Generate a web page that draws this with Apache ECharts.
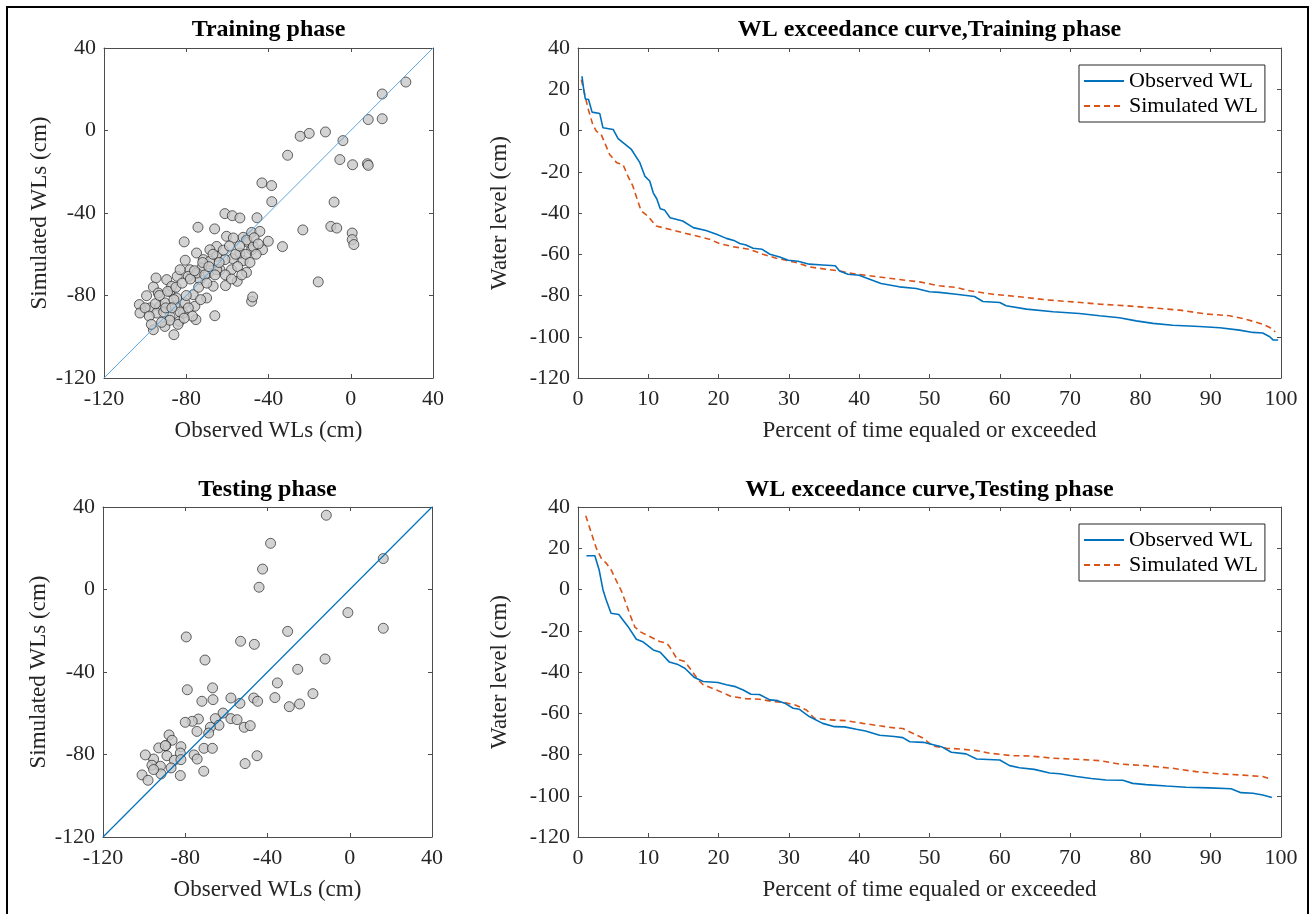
<!DOCTYPE html>
<html><head><meta charset="utf-8">
<script src="https://cdn.jsdelivr.net/npm/echarts@6/dist/echarts.min.js"></script>
<style>html,body{margin:0;padding:0;background:#fff}#c{width:1316px;height:914px}</style>
</head><body><div id="c"></div>
<script>
// ---- Data ----
const scatterTicks = [-120, -80, -40, 0, 40];
const curveXTicks = [0,10,20,30,40,50,60,70,80,90,100];
const curveYTicks = [-120,-100,-80,-60,-40,-20,0,20,40];
const identityLine = [[-120,-120],[40,40]];

// Training phase: [observed, simulated]
const trainPairs = [
[26.8,23.5],[15.3,17.7],[8.5,5.3],[15.3,5.7],[-3.8,-4.9],[-12.3,-0.7],[-20.2,-1.4],[-24.6,-2.8],[-30.7,-12],[-5.3,-14.1],
[0.9,-16.6],[8.1,-16.1],[8.5,-16.9],[-43.2,-25.4],[-38.5,-26.7],[-38.4,-34.5],[-8.1,-34.7],[-61.2,-40.3],[-57.6,-41.3],[-53.9,-42.4],
[-45.6,-42.3],[-74.3,-46.9],[-66.2,-47.7],[-23.3,-48.2],[-9.7,-46.5],[-6.8,-47.3],[0.7,-49.7],[0.7,-52.9],[1.5,-55.3],[-81,-54],
[-60.4,-51.3],[-57.1,-52.1],[-52.3,-51.8],[-48.2,-49.4],[-44.2,-48.9],[-40.1,-53.7],[-42.9,-57.8],[-33.2,-56.3],[-50,-54.2],[-48.2,-57.8],
[-65.2,-56.2],[-68.5,-57.8],[-75,-59.4],[-80.5,-62.9],[-57.5,-62.1],[-52.3,-63.1],[-65.2,-61],[-71.7,-62.6],[-72.5,-66.6],[-78.2,-67.5],
[-63.6,-67.5],[-58,-67.5],[-50.7,-68.8],[-55.2,-73.1],[-60.9,-75.2],[-66.9,-75.5],[-70.1,-81.2],[-79,-70.7],[-84.4,-70.7],[-89.5,-72.3],
[-94.7,-71.5],[-96,-75.9],[-87.9,-78],[-99.3,-80.1],[-102.8,-84.4],[-102.5,-88.5],[-97.6,-86],[-92.8,-85.2],[-94.4,-88.5],[-96,-96.6],
[-90.4,-95],[-86,-99],[-83.4,-92.5],[-80.6,-83.6],[-75.8,-85.2],[-75.3,-91.7],[-66.1,-89.8],[-48.2,-82.8],[-47.7,-80.7],[-15.8,-73.4],
[-85.5,-85.2],[-87.9,-90.1],[-81.4,-88.5],[-90.4,-83.6],[-93.6,-78.8],[-87.1,-75.5],[-84.7,-81.2],[-76.6,-79.6],[-73.3,-72.3],[-69.2,-69.1],
[-74.9,-69.1],[-83,-67.5],[-68.5,-63.4],[-61.2,-62.6],[-65.2,-67.5],[-53.9,-59.4],[-47.4,-56.2],[-50.7,-53.1],
[-100,-86],[-98,-90],[-95,-84],[-93,-80],[-91,-88],[-89,-78],[-88,-92],[-86,-82],[-85,-76],[-83,-88],[-82,-74],[-80,-80],[-79,-86],
[-78,-72],[-77,-90],[-76,-68],[-74,-76],[-73,-82],[-72,-64],[-71,-70],[-70,-74],[-69,-66],[-67,-60],[-66,-70],[-64,-64],[-62,-58],
[-61,-70],[-59,-56],[-58,-72],[-56,-60],[-55,-66],[-54,-56],[-53,-70],[-51,-60],[-49,-64],[-47,-52],[-46,-60],[-45,-55],[-97,-94],
[-92,-93],[-90,-86],[-87,-86],[-84,-94],[-81,-91]
];

// Testing phase: [observed, simulated]
const testPairs = [
[-11.4,36],[-38.5,22.4],[-42.4,9.9],[-44.1,1.1],[16.3,15],[-0.9,-11.2],[16.3,-18.8],[-79.5,-23],[-53.1,-25.1],[-46.4,-26.6],
[-30.2,-20.3],[-70.4,-34.2],[-12,-33.7],[-25.3,-38.7],[-35.2,-45.3],[-17.9,-50.5],[-79,-48.6],[-66.7,-47.7],[-71.9,-54.2],[-66.5,-53.4],
[-57.8,-52.6],[-53.4,-55.2],[-46.7,-52.6],[-44.8,-54.2],[-36.4,-52.4],[-29.4,-56.8],[-24.4,-55.5],[-61.6,-59.9],[-65.4,-62.6],[-57.8,-62.6],
[-54.8,-63.1],[-63.6,-65.8],[-67.8,-66.8],[-51.3,-66.8],[-48.4,-66],[-73.6,-62.8],[-76.6,-63.9],[-80,-64.4],[-74.3,-68.8],[-68.6,-69.6],
[-87.9,-70.5],[-86.4,-73.1],[-89.5,-75.7],[-92.9,-76.8],[-82.1,-76.2],[-70.9,-77],[-66.8,-77],[-75.7,-80.2],[-74.2,-82.2],[-82.4,-79.3],
[-88.9,-80.6],[-95.4,-82.2],[-99.4,-80.2],[-85.3,-82.8],[-82.1,-82.5],[-45.1,-80.6],[-50.9,-84.4],[-71,-88.1],[-82.4,-90.2],[-96.2,-85.2],
[-92.1,-85.7],[-86.9,-86.5],[-91.8,-89.4],[-101,-89.9],[-98.1,-92.5],[-95.4,-87.3],[-89.7,-75.7]
];

// Exceedance curves, training phase
const trainObsPct = [0.57,0.8,1.04,1.5,2,3.1,3.55,5,5.7,7.6,8.8,9.5,10.2,10.7,11.2,11.7,12.3,13.1,14.9,16.4,18.2,19.7,21.1,22.3,23,23.9,24.9,26.2,27.3,28.7,29.9,31.3,32.9,34.8,36.6,37.2,38.4,40,41.2,43.1,45.7,48.1,50,51.4,53.8,56.4,57.6,60,60.9,63.8,67.6,71.3,74.2,77,79.4,81.8,84.6,88.4,91.3,94.1,96,97.4,98.4,98.9,99.6];
const trainObsWL = [26.3,20.2,15.3,15,8.9,8.2,1.3,0.5,-3.9,-9.2,-15.6,-22.1,-24.5,-30.2,-33.1,-37.9,-38.5,-42.3,-43.9,-47.1,-48.5,-50.3,-52.3,-53.5,-54.8,-55.5,-57.1,-57.6,-60,-61.3,-62.9,-63.4,-64.8,-65.2,-65.6,-68.1,-69.7,-70.2,-71.8,-74.2,-75.8,-76.6,-78.2,-78.5,-79.4,-80.5,-82.9,-83.4,-85,-86.6,-87.9,-88.7,-89.8,-90.8,-92.3,-93.5,-94.4,-95,-95.6,-96.8,-97.9,-98.2,-100,-101.6,-101.6];
const trainSimPct = [0.47,0.8,1.4,2.1,2.6,3.3,4,4.5,5.5,6.4,7.1,7.8,8.5,9,9.95,11.1,13,15.2,17.3,18.7,20.1,22,24.4,26.3,28.2,31,32.9,35.3,37.2,39.6,42.4,45.3,48.6,51.4,53.8,55.7,59,62.8,66.6,70.4,74.2,78,81.8,85.6,89.4,92.7,95,97.4,98.4,99.2];
const trainSimWL = [24.7,19.8,11,2.9,-0.3,-1.9,-7.6,-11.6,-15.6,-16.5,-22.1,-26.9,-34.2,-39,-41.5,-46.3,-47.9,-49.8,-51.5,-52.7,-54.8,-56.3,-57.6,-60,-61.9,-64,-66.1,-67.3,-68.1,-69.7,-70.8,-72.1,-73.4,-75.3,-76.1,-77.7,-79.4,-80.6,-82.1,-83.1,-84.2,-85,-86,-87.1,-89,-89.8,-91.5,-93.9,-95.5,-97.6];

// Exceedance curves, testing phase
const testObsPct = [1.2,2.4,3,3.55,4,4.7,5.8,7.1,8.3,9.3,10.7,11.7,13,14.1,15.2,16.5,17.8,19.9,21.1,22.4,23.5,24.6,25.8,27.3,28.4,29.4,30.6,31.5,32.9,34.8,36.5,37.9,39.6,40.9,42.9,45,46.2,47.2,49.1,51.7,53.1,55.2,56.7,60,61.4,62.8,64.9,67.1,68.5,70.9,73,75.1,77.5,78.9,80.8,83.7,86.5,89.8,92.9,94.3,96,97.4,98.7];
const testObsWL = [16.4,16.4,9.6,-0.1,-5,-11.5,-12.1,-17.9,-24.1,-25.5,-29.3,-30.4,-35.2,-36.2,-38.2,-42.5,-44.6,-45.1,-46.2,-47.1,-48.7,-50.8,-50.9,-53.5,-53.9,-55.1,-57.6,-58.1,-61.6,-64.9,-66.5,-66.6,-67.8,-68.6,-70.7,-71.3,-71.8,-73.8,-74.1,-76.2,-78.9,-79.7,-82.2,-82.7,-85.4,-86.4,-87.2,-89,-89.3,-90.7,-91.6,-92.4,-92.5,-94,-94.6,-95.3,-95.9,-96.2,-96.6,-98.5,-98.8,-99.6,-100.9];
const testSimPct = [1.1,1.9,2.6,3.3,4,4.7,5.5,6.2,6.9,7.4,8.1,9,10.2,11.6,12.6,13,14.1,15.2,16.1,17.1,17.8,19.7,21.8,23.9,25.8,27.7,29.4,31,32.5,33.6,35.8,38.2,40.5,42.9,45,46.2,47.6,49.1,50.5,52.4,54.3,56.7,58.6,61.9,64.2,67.6,70.9,74.2,77,80.8,84.6,87.9,91.3,94.1,97.4,98.6];
const testSimWL = [35.8,27.4,20.1,15.2,12.8,9.6,3.9,-0.9,-7.4,-12.3,-18.3,-20.8,-22.8,-25.2,-26,-27.6,-33.8,-34.9,-39,-43.8,-46.2,-48.7,-51.9,-52.9,-53.2,-54.3,-54.8,-56.1,-58.4,-62.4,-63.2,-63.6,-64.9,-66.1,-67.1,-67.4,-69.7,-72.1,-75.9,-77,-77.3,-78.1,-79.4,-80.6,-80.7,-81.8,-82.3,-83,-84.6,-85.4,-86.7,-88.3,-89.4,-89.9,-90.7,-92];

const legendNames = ['Observed WL', 'Simulated WL'];
const titles = ['Training phase', 'WL exceedance curve,Training phase', 'Testing phase', 'WL exceedance curve,Testing phase'];

// ---- Chart ----
const FONT = '"Liberation Serif", "Times New Roman", serif';
const TXT = '#262626';
const AX = '#4d4d4d';
const BLUE = '#0072BD', ORANGE = '#D95319';
const zip = (a, b) => a.map((v, i) => [v, b[i]]);

const grids = [
  {left:104, top:48, width:329, height:330},
  {left:578, top:48, width:703, height:330},
  {left:103, top:507, width:329, height:330},
  {left:578, top:507, width:703, height:330}
];
const isScatter = [true, false, true, false];

function mainX(i) {
  const sc = isScatter[i];
  return {
    type:'value', gridIndex:i, position:'bottom',
    min: sc ? scatterTicks[0] : curveXTicks[0],
    max: sc ? scatterTicks[scatterTicks.length-1] : curveXTicks[curveXTicks.length-1],
    interval: sc ? 40 : 10,
    name: sc ? 'Observed WLs (cm)' : 'Percent of time equaled or exceeded',
    nameLocation:'middle', nameGap:41,
    nameTextStyle:{fontFamily:FONT, fontSize:23, color:TXT},
    axisLine:{show:true, onZero:false, lineStyle:{color:AX, width:1}},
    axisTick:{show:true, inside:true, length:4, lineStyle:{color:AX}},
    axisLabel:{fontFamily:FONT, fontSize:22, color:TXT, margin:10},
    splitLine:{show:false}
  };
}
function mainY(i) {
  const sc = isScatter[i];
  return {
    type:'value', gridIndex:i, position:'left',
    min: sc ? scatterTicks[0] : curveYTicks[0],
    max: sc ? scatterTicks[scatterTicks.length-1] : curveYTicks[curveYTicks.length-1],
    interval: sc ? 40 : 20,
    name: sc ? 'Simulated WLs (cm)' : 'Water level (cm)',
    nameLocation:'middle', nameGap: sc ? 53 : 67, nameRotate:90,
    nameTextStyle:{fontFamily:FONT, fontSize:23, color:TXT},
    axisLine:{show:true, onZero:false, lineStyle:{color:AX, width:1}},
    axisTick:{show:true, inside:true, length:4, lineStyle:{color:AX}},
    axisLabel:{fontFamily:FONT, fontSize:22, color:TXT, margin:8},
    splitLine:{show:false}
  };
}
function boxAxis(base, pos) {
  return Object.assign({}, base, {position:pos, name:'', axisLabel:{show:false}});
}

const xAxes = [], yAxes = [];
for (let i = 0; i < 4; i++) { xAxes.push(mainX(i)); yAxes.push(mainY(i)); }
for (let i = 0; i < 4; i++) { xAxes.push(boxAxis(mainX(i), 'top')); yAxes.push(boxAxis(mainY(i), 'right')); }

const scatterStyle = {color:'#c8c8c8', borderColor:'#111', borderWidth:0.8};

const series = [
  {type:'scatter', xAxisIndex:0, yAxisIndex:0, data:trainPairs, symbolSize:10, itemStyle:scatterStyle, z:2, silent:true},
  {type:'line', xAxisIndex:0, yAxisIndex:0, data:identityLine, symbol:'none', lineStyle:{color:'#5ca4dc', width:1}, z:3, silent:true},
  {type:'scatter', xAxisIndex:2, yAxisIndex:2, data:testPairs, symbolSize:10, itemStyle:scatterStyle, z:2, silent:true},
  {type:'line', xAxisIndex:2, yAxisIndex:2, data:identityLine, symbol:'none', lineStyle:{color:BLUE, width:1.2}, z:3, silent:true},
  {name:legendNames[0], type:'line', xAxisIndex:1, yAxisIndex:1, data:zip(trainObsPct, trainObsWL), symbol:'none', lineStyle:{color:BLUE, width:1.6}, itemStyle:{color:BLUE}, z:3},
  {name:legendNames[1], type:'line', xAxisIndex:1, yAxisIndex:1, data:zip(trainSimPct, trainSimWL), symbol:'none', lineStyle:{color:ORANGE, width:1.6, type:[6,4]}, itemStyle:{color:ORANGE}, z:2},
  {name:legendNames[0], type:'line', xAxisIndex:3, yAxisIndex:3, data:zip(testObsPct, testObsWL), symbol:'none', lineStyle:{color:BLUE, width:1.6}, itemStyle:{color:BLUE}, z:3},
  {name:legendNames[1], type:'line', xAxisIndex:3, yAxisIndex:3, data:zip(testSimPct, testSimWL), symbol:'none', lineStyle:{color:ORANGE, width:1.6, type:[6,4]}, itemStyle:{color:ORANGE}, z:2}
];

function legendAt(top) {
  return {
    data:legendNames, orient:'vertical', left:1079, top:top,
    borderColor:'#262626', borderWidth:1, padding:[5,7,5,4],
    itemWidth:40, itemHeight:14, itemGap:3, selectedMode:false,
    itemStyle:{opacity:0},
    textStyle:{fontFamily:FONT, fontSize:22, color:'#000'}
  };
}

const titleCenters = [[268.5,32],[929.5,32],[267.5,492],[929.5,492]];
const titleOpts = titles.map((t, i) => ({
  text:t, left:titleCenters[i][0], top:titleCenters[i][1]-14, textAlign:'center',
  padding:0, textStyle:{fontFamily:FONT, fontSize:24, fontWeight:'bold', color:'#000'}
}));

const chart = echarts.init(document.getElementById('c'), null, {renderer:'canvas'});
chart.setOption({
  backgroundColor:'#fff',
  animation:false,
  title:titleOpts,
  legend:[legendAt(65), legendAt(524)],
  grid:grids,
  xAxis:xAxes,
  yAxis:yAxes,
  series:series,
  graphic:[{type:'rect', shape:{x:7, y:7, width:1301, height:930}, style:{fill:'none', stroke:'#000', lineWidth:2}, silent:true}]
});
</script></body></html>
